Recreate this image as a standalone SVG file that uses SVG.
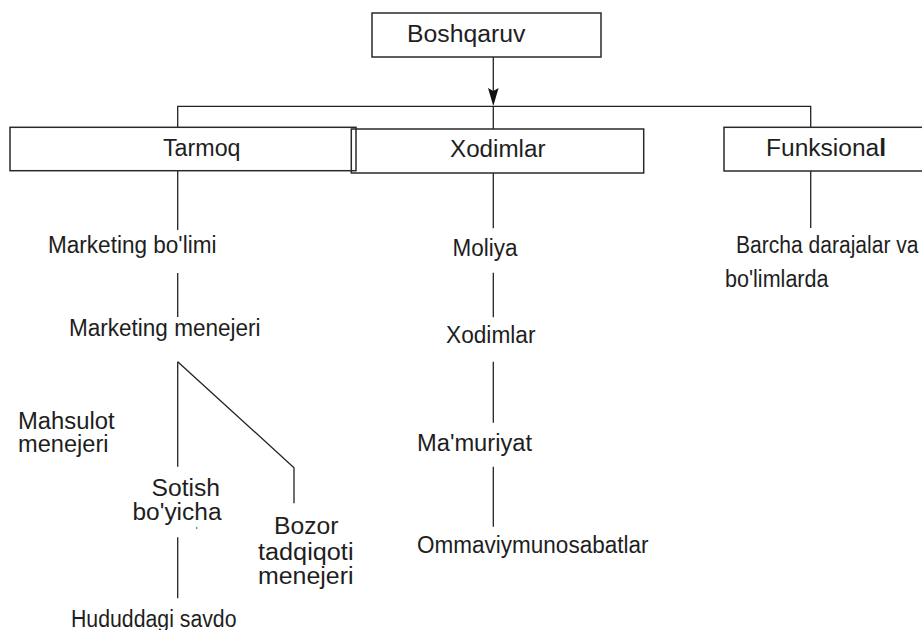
<svg xmlns="http://www.w3.org/2000/svg" width="922" height="630" viewBox="0 0 922 630">
  <style>
    .box { fill: none; stroke: #2a2a2a; stroke-width: 1.5; }
    .ln { fill: none; stroke: #222; stroke-width: 1.3; }
    text { font-family: "Liberation Sans", Arial, sans-serif; font-size: 23px; fill: #1e1e1e; }
  </style>
  <rect width="922" height="630" fill="#ffffff"/>

  <!-- connectors -->
  <g id="connectors">
    <path class="ln" d="M493.3,57 V100"/>
    <path d="M488,88 L493.3,106 L498.6,88 L493.3,91 Z" fill="#111"/>
    <path class="ln" d="M177.7,127 V106.3 H810.7 V127"/>
    <path class="ln" d="M493.3,106 V129"/>
    <!-- Tarmoq branch -->
    <path class="ln" d="M177.7,171 V230"/>
    <path class="ln" d="M177.7,273 V317"/>
    <path class="ln" d="M177.7,361.7 V466.7"/>
    <path class="ln" d="M177.7,361.7 L294,467.7 V503.3"/>
    <path class="ln" d="M177.7,537.3 V598.3"/>
    <!-- Xodimlar branch -->
    <path class="ln" d="M493.3,173 V228.3"/>
    <path class="ln" d="M493.3,272.7 V317.3"/>
    <path class="ln" d="M493.3,361.7 V422.7"/>
    <path class="ln" d="M493.3,466.7 V526.7"/>
    <!-- Funksional branch -->
    <path class="ln" d="M810.7,171 V228"/>
  </g>

  <g id="boshqaruv">
    <rect class="box" x="372" y="13" width="229" height="44"/>
    <text x="407" y="41.5" textLength="118.5" lengthAdjust="spacingAndGlyphs">Boshqaruv</text>
  </g>

  <g id="tarmoq">
    <rect class="box" x="10" y="127.3" width="346" height="43.4"/>
    <text x="163" y="156" textLength="77.5" lengthAdjust="spacingAndGlyphs">Tarmoq</text>
  </g>

  <g id="xodimlar">
    <rect class="box" x="351.3" y="129" width="292.4" height="44"/>
    <text x="450" y="156.5" textLength="95.5" lengthAdjust="spacingAndGlyphs">Xodimlar</text>
  </g>

  <g id="funksional">
    <rect class="box" x="724" y="127.3" width="210" height="43.7"/>
    <text x="766" y="156" textLength="120" lengthAdjust="spacingAndGlyphs">Funksiona<tspan font-weight="bold">l</tspan></text>
  </g>

  <g id="marketing-bolimi">
    <text x="48" y="253" textLength="168.5" lengthAdjust="spacingAndGlyphs">Marketing bo'limi</text>
  </g>

  <g id="marketing-menejeri">
    <text x="69" y="336" textLength="191.5" lengthAdjust="spacingAndGlyphs">Marketing menejeri</text>
  </g>

  <g id="mahsulot-menejeri">
    <text x="18" y="428.5" textLength="96.5" lengthAdjust="spacingAndGlyphs">Mahsulot</text>
    <text x="18" y="452" textLength="90.5" lengthAdjust="spacingAndGlyphs">menejeri</text>
  </g>

  <g id="sotish-boyicha">
    <text x="151.5" y="496" textLength="68.5" lengthAdjust="spacingAndGlyphs">Sotish</text>
    <text x="132.5" y="520" textLength="89" lengthAdjust="spacingAndGlyphs">bo'yicha</text>
    <circle cx="196.7" cy="528" r="0.9" fill="#777"/>
  </g>

  <g id="bozor-tadqiqoti">
    <text x="274" y="534" textLength="64.5" lengthAdjust="spacingAndGlyphs">Bozor</text>
    <text x="258" y="560" font-size="22.5" textLength="95.5" lengthAdjust="spacingAndGlyphs">tadqiqoti</text>
    <text x="258" y="583.5" textLength="95.5" lengthAdjust="spacingAndGlyphs">menejeri</text>
  </g>

  <g id="hududdagi-savdo">
    <text x="71" y="627" textLength="165.5" lengthAdjust="spacingAndGlyphs">Hududdagi savdo</text>
  </g>

  <g id="moliya">
    <text x="452.5" y="256" font-size="24" textLength="65" lengthAdjust="spacingAndGlyphs">Moliya</text>
  </g>

  <g id="xodimlar-item">
    <text x="446" y="343" textLength="89.5" lengthAdjust="spacingAndGlyphs">Xodimlar</text>
  </g>

  <g id="mamuriyat">
    <text x="417" y="451" textLength="115" lengthAdjust="spacingAndGlyphs">Ma'muriyat</text>
  </g>

  <g id="ommaviy">
    <text x="417" y="553" textLength="231.5" lengthAdjust="spacingAndGlyphs">Ommaviymunosabatlar</text>
  </g>

  <g id="barcha">
    <text x="736" y="253" textLength="182.5" lengthAdjust="spacingAndGlyphs">Barcha darajalar va</text>
    <text x="725" y="287" textLength="103.5" lengthAdjust="spacingAndGlyphs">bo'limlarda</text>
  </g>
</svg>
